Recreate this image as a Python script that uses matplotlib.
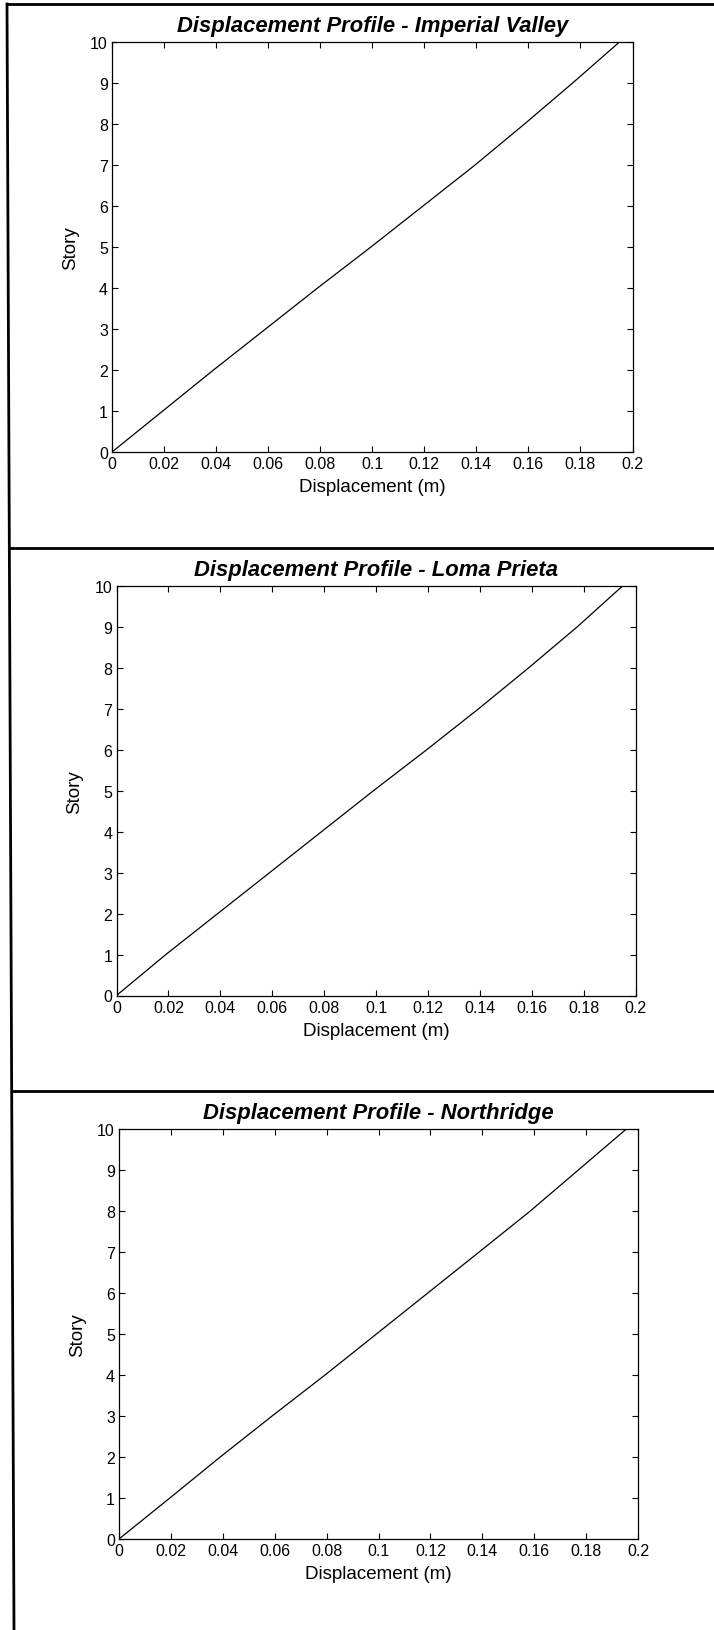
import matplotlib
matplotlib.use("Agg")
import matplotlib.pyplot as plt
from matplotlib.lines import Line2D

plt.rcParams['font.family'] = ['Liberation Sans', 'DejaVu Sans']

# ---- data ----
story = [0, 1, 2, 3, 4, 5, 6, 7, 8, 9, 10]
disp_imperial = [0, 0.0195, 0.039, 0.059, 0.079, 0.0995, 0.1195, 0.1395, 0.1585, 0.177, 0.195]
disp_loma = [0, 0.019, 0.039, 0.059, 0.079, 0.099, 0.1195, 0.1395, 0.1588, 0.1775, 0.195]
disp_north = [0, 0.0196, 0.039, 0.059, 0.0794, 0.0992, 0.119, 0.1388, 0.1585, 0.177, 0.1955]
titles = ["Displacement Profile - Imperial Valley",
          "Displacement Profile - Loma Prieta",
          "Displacement Profile - Northridge"]
xticks = [0, 0.02, 0.04, 0.06, 0.08, 0.1, 0.12, 0.14, 0.16, 0.18, 0.2]
xticklabels = ["0", "0.02", "0.04", "0.06", "0.08", "0.1", "0.12", "0.14", "0.16", "0.18", "0.2"]
yticks = [0, 1, 2, 3, 4, 5, 6, 7, 8, 9, 10]
xlabel = "Displacement (m)"
ylabel = "Story"

W, H = 714, 1631
fig = plt.figure(figsize=(W / 100, H / 100), dpi=100)
fig.patch.set_facecolor('white')

# axes boxes in pixels: left, right, top, bottom
boxes = [(112, 632.5, 43, 453),
         (116.5, 635.5, 587, 996.5),
         (119, 638, 1130, 1540)]
series = [disp_imperial, disp_loma, disp_north]

for (l, r, t, b), disp, title in zip(boxes, series, titles):
    ax = fig.add_axes([l / W, 1 - b / H, (r - l) / W, (b - t) / H])
    ax.plot(disp, story, color='black', lw=0.9)
    ax.set_xlim(0, 0.2)
    ax.set_ylim(0, 10)
    ax.set_xticks(xticks)
    ax.set_xticklabels(xticklabels)
    ax.set_yticks(yticks)
    ax.tick_params(direction='in', top=True, right=True, length=4, width=0.8,
                   labelsize=11.5, pad=3)
    for s in ax.spines.values():
        s.set_linewidth(0.9)
    ax.set_title(title, fontsize=15.8, fontweight='bold', fontstyle='italic', pad=8)
    ax.set_xlabel(xlabel, fontsize=13.5, labelpad=5)
    ax.set_ylabel(ylabel, fontsize=13.5, labelpad=8)

# frame lines around the panels
def fl(x0, y0, x1, y1, lw=2.0):
    fig.add_artist(Line2D([x0 / W, x1 / W], [1 - y0 / H, 1 - y1 / H],
                          color='black', lw=lw, transform=fig.transFigure))

fl(7, 5, W, 5)
fl(7, 5, 14, H)
fl(10, 549, W, 549)
fl(12, 1092, W, 1092)

fig.savefig("out.png", dpi=100, facecolor='white')
